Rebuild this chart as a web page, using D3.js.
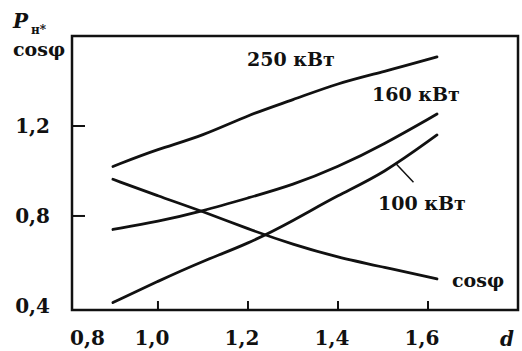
<!DOCTYPE html>
<html>
<head>
<meta charset="utf-8">
<script src="https://cdn.jsdelivr.net/npm/d3@7"></script>
<style>
  body { margin: 0; background: #fff; }
  text { font-family: "DejaVu Serif", serif; font-weight: bold; fill: #111; }
</style>
</head>
<body>
<div id="chart"></div>
<script>
// relative diameter d
const dValues = [0.9, 1.0, 1.1, 1.2, 1.3, 1.4, 1.5, 1.62];
// relative power P_н* for three ratings, and cos phi
const p250 = [1.02, 1.098, 1.156, 1.249, 1.316, 1.391, 1.44, 1.507];
const p160 = [0.74, 0.775, 0.822, 0.88, 0.938, 1.018, 1.116, 1.253];
const p100 = [0.415, 0.51, 0.6, 0.676, 0.778, 0.893, 0.987, 1.16];
const cosPhi = [0.963, 0.889, 0.82, 0.742, 0.673, 0.616, 0.573, 0.52];

const xTicks = [0.8, 1.0, 1.2, 1.4, 1.6];
const yTicks = [0.4, 0.8, 1.2];

const width = 522, height = 351;
const margin = { top: 36, right: 4, bottom: 41, left: 72 };

const svg = d3.select("#chart")
    .append("svg")
    .attr("width", width)
    .attr("height", height);

const x = d3.scaleLinear()
    .domain([0.809, 1.8])
    .range([margin.left, width - margin.right]);

const y = d3.scaleLinear()
    .domain([0.382, 1.6])
    .range([height - margin.bottom, margin.top]);

const fmt = d => d3.format(".1f")(d).replace(".", ",");

// frame
svg.append("rect")
    .attr("x", x.range()[0])
    .attr("y", y.range()[1])
    .attr("width", x.range()[1] - x.range()[0])
    .attr("height", y.range()[0] - y.range()[1])
    .attr("fill", "none")
    .attr("stroke", "#111")
    .attr("stroke-width", 2.5);

// x ticks (inward) and labels
svg.selectAll(".xtick")
    .data(xTicks.filter(d => x(d) > x.range()[0] + 5))
    .enter()
    .append("line")
    .attr("x1", d => x(d)).attr("x2", d => x(d))
    .attr("y1", y.range()[0]).attr("y2", y.range()[0] - 9)
    .attr("stroke", "#111")
    .attr("stroke-width", 2);

svg.selectAll(".xlab")
    .data(xTicks)
    .enter()
    .append("text")
    .attr("x", d => x(d) < x.range()[0] ? x.range()[0] - 2 : x(d) - 6)
    .attr("y", 345)
    .attr("text-anchor", d => x(d) < x.range()[0] ? "start" : "middle")
    .attr("font-size", 20)
    .text(fmt);

// y ticks (inward) and labels
svg.selectAll(".ytick")
    .data(yTicks.filter(d => y(d) < y.range()[0] - 5))
    .enter()
    .append("line")
    .attr("x1", x.range()[0]).attr("x2", x.range()[0] + 13)
    .attr("y1", d => y(d)).attr("y2", d => y(d))
    .attr("stroke", "#111")
    .attr("stroke-width", 2);

svg.selectAll(".ylab")
    .data(yTicks)
    .enter()
    .append("text")
    .attr("x", 50)
    .attr("y", d => Math.min(y(d), 306) + 7)
    .attr("text-anchor", "end")
    .attr("font-size", 20)
    .text(fmt);

// axis titles
svg.append("text")
    .attr("x", 13).attr("y", 28)
    .attr("font-size", 20)
    .attr("font-style", "italic")
    .text("P");
svg.append("text")
    .attr("x", 31).attr("y", 34)
    .attr("font-size", 12)
    .text("н*");
svg.append("text")
    .attr("x", 13).attr("y", 56)
    .attr("font-size", 19)
    .text("cosφ");
svg.append("text")
    .attr("x", 500).attr("y", 346)
    .attr("font-size", 20)
    .attr("font-style", "italic")
    .text("d");

// curves
const series = [
    { name: "250 кВт", values: p250 },
    { name: "160 кВт", values: p160 },
    { name: "100 кВт", values: p100 },
    { name: "cosφ", values: cosPhi }
];

const line = d3.line()
    .x((d, i) => x(dValues[i]))
    .y(d => y(d))
    .curve(d3.curveBasis);

svg.selectAll(".curve")
    .data(series)
    .enter()
    .append("path")
    .attr("d", s => line(s.values))
    .attr("fill", "none")
    .attr("stroke", "#111")
    .attr("stroke-width", 2.8)
    .attr("stroke-linecap", "round");

// curve labels
svg.append("text").attr("x", 247).attr("y", 66).attr("font-size", 19).text("250 кВт");
svg.append("text").attr("x", 372).attr("y", 101).attr("font-size", 19).text("160 кВт");
svg.append("text").attr("x", 378).attr("y", 210).attr("font-size", 19).text("100 кВт");
svg.append("text").attr("x", 452).attr("y", 287).attr("font-size", 19).text("cosφ");

// leader from 100 кВт curve to its label
const leaderD = 1.53;
const leaderV = d3.scaleLinear().domain(dValues).range(p100)(leaderD);
svg.append("line")
    .attr("x1", x(leaderD)).attr("y1", y(leaderV))
    .attr("x2", x(leaderD) + 17).attr("y2", y(leaderV) + 18)
    .attr("stroke", "#111")
    .attr("stroke-width", 1.5);
</script>
</body>
</html>
